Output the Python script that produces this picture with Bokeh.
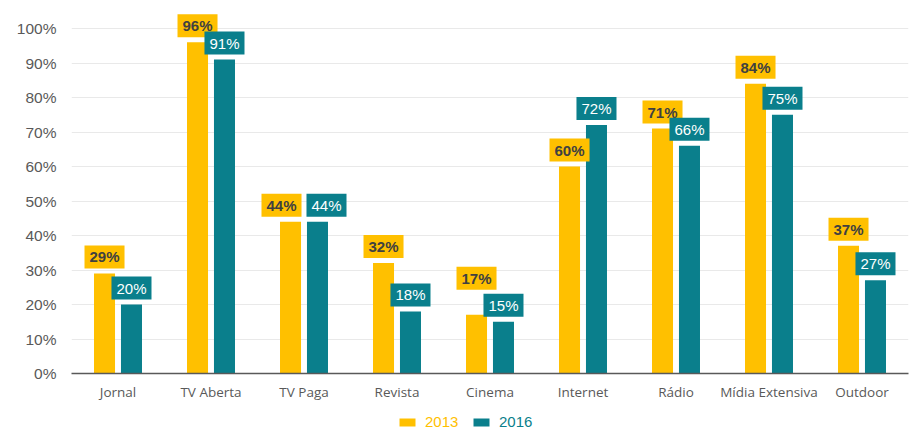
from bokeh.plotting import figure
from bokeh.layouts import column
from bokeh.models import ColumnDataSource, FactorRange, Range1d, FixedTicker, Legend, LegendItem
from bokeh.transform import dodge
from bokeh.core.properties import value
from bokeh.embed import file_html
from bokeh.resources import INLINE

categories = ["Jornal", "TV Aberta", "TV Paga", "Revista", "Cinema", "Internet",
              "Rádio", "Mídia Extensiva", "Outdoor"]
values_2013 = [29, 96, 44, 32, 17, 60, 71, 84, 37]
values_2016 = [20, 91, 44, 18, 15, 72, 66, 75, 27]
series_names = ["2013", "2016"]
y_ticks = [0, 10, 20, 30, 40, 50, 60, 70, 80, 90, 100]

YELLOW = "#FFC000"
TEAL = "#0A7F8C"
GRAY = "#595959"

# ---- layout / style parameters ----
FRAME_W, FRAME_H = 837, 361
PX_PER_UNIT = 3.45
Y_END = FRAME_H / PX_PER_UNIT
OFF, BW = 0.145, 0.226           # dodge offset and bar width (category units)
BOX_W, BOX_H, GAP = 40, 22, 5    # label box size and gap above bar (px)
CAT_PX = FRAME_W / len(categories)

# simple collision avoidance for the value labels
dx13, dx16, dy13, dy16 = [], [], [], []
for a, b in zip(values_2013, values_2016):
    ddx13 = ddx16 = ddy13 = ddy16 = 0
    sep_px = 2 * OFF * CAT_PX
    if a == b:
        spread = (BOX_W + 5 - sep_px) / 2
        ddx13, ddx16 = -spread, spread
    else:
        diff_px = abs(a - b) * PX_PER_UNIT
        overlap = BOX_H - diff_px
        if overlap > 6:
            lift = overlap + GAP
            if a > b:
                ddy13 = -lift
            else:
                ddy16 = -lift
    dx13.append(ddx13); dx16.append(ddx16); dy13.append(ddy13 - GAP); dy16.append(ddy16 - GAP)

src = ColumnDataSource(dict(
    cat=categories,
    v13=values_2013,
    v16=values_2016,
    l13=[f"{v}%" for v in values_2013],
    l16=[f"{v}%" for v in values_2016],
    dx13=dx13, dx16=dx16, dy13=dy13, dy16=dy16,
))

p = figure(
    x_range=FactorRange(*categories, range_padding=0),
    y_range=Range1d(0, Y_END),
    frame_width=FRAME_W, frame_height=FRAME_H,
    min_border_left=71, min_border_right=1, min_border_top=12, min_border_bottom=35,
    output_backend="svg", toolbar_location=None,
)
p.outline_line_color = None
p.background_fill_color = "white"

p.vbar(x=dodge("cat", -OFF, range=p.x_range), top="v13", width=BW, source=src,
       fill_color=YELLOW, line_color=None)
p.vbar(x=dodge("cat", OFF, range=p.x_range), top="v16", width=BW, source=src,
       fill_color=TEAL, line_color=None)

pad = dict(left=5, right=5, top=3, bottom=3)
p.text(x=dodge("cat", -OFF, range=p.x_range), y="v13", text="l13", source=src,
       text_align="center", text_baseline="bottom", x_offset="dx13", y_offset="dy13",
       text_font=value("Liberation Sans"), text_font_size="15px", text_font_style="bold",
       text_color="#404040", background_fill_color=YELLOW, padding=pad)
p.text(x=dodge("cat", OFF, range=p.x_range), y="v16", text="l16", source=src,
       text_align="center", text_baseline="bottom", x_offset="dx16", y_offset="dy16",
       text_font=value("Liberation Sans"), text_font_size="15px",
       text_color="white", background_fill_color=TEAL, padding=pad)

# axes
p.yaxis.ticker = FixedTicker(ticks=y_ticks)
p.yaxis.major_label_overrides = {t: f"{t}%" for t in y_ticks}
p.yaxis.axis_line_color = None
p.yaxis.major_tick_line_color = None
p.yaxis.minor_tick_line_color = None
p.yaxis.major_label_text_font = "Liberation Sans"
p.yaxis.major_label_text_font_size = "15.5px"
p.yaxis.major_label_text_color = GRAY
p.yaxis.major_label_standoff = 9

p.xaxis.axis_line_color = GRAY
p.xaxis.axis_line_width = 1.5
p.xaxis.major_tick_line_color = None
p.xaxis.minor_tick_line_color = None
p.xaxis.major_label_text_font = "Open Sans"
p.xaxis.major_label_text_font_size = "13.5px"
p.xaxis.major_label_text_color = GRAY
p.xaxis.major_label_standoff = 3

p.xgrid.grid_line_color = None
p.ygrid.grid_line_color = "#E9E9E9"
p.ygrid.ticker = FixedTicker(ticks=y_ticks[1:])

# legend strip below the chart (hidden zero-height swatch renderers)
lf = figure(width=909, height=30, x_range=Range1d(0, 1), y_range=Range1d(0, 1),
            min_border=0, output_backend="svg", toolbar_location=None)
lf.axis.visible = False
lf.grid.grid_line_color = None
lf.outline_line_color = None
g13 = lf.vbar(x=[0], top=[0], width=0, fill_color=YELLOW, line_color=None)
g16 = lf.vbar(x=[0], top=[0], width=0, fill_color=TEAL, line_color=None)

leg_common = dict(orientation="horizontal", padding=0, margin=0, spacing=0,
                  border_line_color=None, background_fill_alpha=0,
                  glyph_width=20, glyph_height=10, label_standoff=8,
                  label_text_font="Liberation Sans", label_text_font_size="15px")
leg1 = Legend(items=[LegendItem(label=series_names[0], renderers=[g13])],
              location=(326, 8), label_text_color=YELLOW, **leg_common)
leg2 = Legend(items=[LegendItem(label=series_names[1], renderers=[g16])],
              location=(400, 8), label_text_color=TEAL, **leg_common)
lf.add_layout(leg1)
lf.add_layout(leg2)

layout = column(p, lf, spacing=0)
open("out.html", "w").write(file_html(layout, INLINE))
